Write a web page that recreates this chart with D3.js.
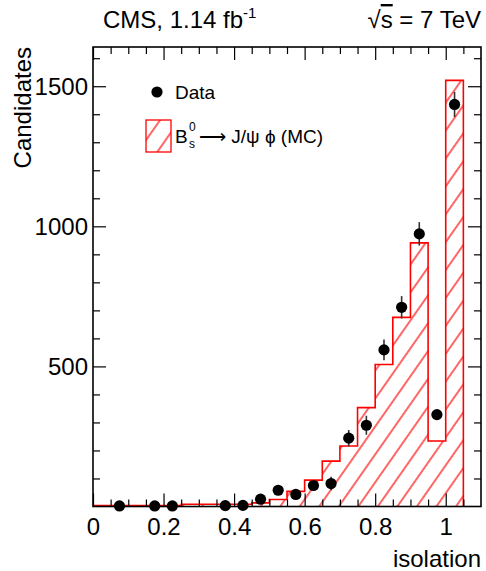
<!DOCTYPE html>
<html><head><meta charset="utf-8">
<script src="https://cdn.jsdelivr.net/npm/d3@7"></script>
<style>
html,body{margin:0;padding:0;background:#fff;}
text{font-family:"Liberation Sans",Arial,Helvetica,sans-serif;fill:#000;}
</style></head>
<body>
<svg id="c" width="486" height="571"></svg>
<script>
// ---- data ----
const mcBinLow = [0,0.05,0.10,0.15,0.20,0.25,0.30,0.35,0.40,0.45,0.50,0.55,0.60,0.65,0.70,0.75,0.80,0.85,0.90,0.95,1.00];
const mcCounts = [3,3,3,3,3,8,8,8,8,13,25,54,94,162,216,353,507,675,941,234,1521];
const binWidth = 0.05;
const dataX = [0.075,0.175,0.225,0.375,0.425,0.475,0.525,0.575,0.625,0.675,0.725,0.775,0.825,0.875,0.925,0.975,1.025];
const dataY = [2,2,2,3,4,26,58,43,75,82,244,290,559,711,973,328,1435];
const dataErr = [2,2,2,2,2,10,14,12,15,24,29,34,37,40,42,15,45];
const xMajorTicks = [0,0.2,0.4,0.6,0.8,1.0];
const xTickLabels = ["0","0.2","0.4","0.6","0.8","1"];
const yMajorTicks = [500,1000,1500];
const yTickLabels = ["500","1000","1500"];

// ---- layout ----
const L = 93, R = 481, T = 47, B = 506.5;
const svg = d3.select("#c");
const x = d3.scaleLinear().domain([0,1.1]).range([L,R]);
const y = d3.scaleLinear().domain([0,1640]).range([B,T]);

const defs = svg.append("defs");
const pat = defs.append("pattern").attr("id","hatch").attr("patternUnits","userSpaceOnUse")
  .attr("width",16).attr("height",16).attr("patternTransform","rotate(35)");
pat.append("line").attr("x1",8).attr("y1",0).attr("x2",8).attr("y2",16)
  .attr("stroke","#ff0000").attr("stroke-width",1.2);
defs.append("clipPath").attr("id","clip").append("rect")
  .attr("x",L).attr("y",T).attr("width",R-L).attr("height",B-T);

// ---- MC histogram ----
const pts = [[0,0]].concat(mcBinLow.map((b,i)=>[b,mcCounts[i]]));
const lastEdge = mcBinLow[mcBinLow.length-1]+binWidth;
pts.push([lastEdge, mcCounts[mcCounts.length-1]]);
pts.push([lastEdge, 0]);
const area = d3.area().x(d=>x(d[0])).y0(y(0)).y1(d=>y(d[1])).curve(d3.curveStepAfter);
const line = d3.line().x(d=>x(d[0])).y(d=>y(d[1])).curve(d3.curveStepAfter);
const g = svg.append("g").attr("clip-path","url(#clip)");
g.append("path").attr("d",area(pts)).attr("fill","url(#hatch)");
g.append("path").attr("d",line(pts)).attr("fill","none").attr("stroke","#ff0000").attr("stroke-width",1.6);

// ---- data points ----
const dg = svg.append("g");
dg.selectAll("line.err").data(dataX).join("line").attr("class","err")
  .attr("x1",(d)=>x(d)).attr("x2",(d)=>x(d))
  .attr("y1",(d,i)=>y(dataY[i]-dataErr[i])).attr("y2",(d,i)=>y(dataY[i]+dataErr[i]))
  .attr("stroke","#333").attr("stroke-width",1.6);
dg.selectAll("circle").data(dataX).join("circle")
  .attr("cx",d=>x(d)).attr("cy",(d,i)=>y(dataY[i])).attr("r",5.6).attr("fill","#000");

// ---- axes ----
const xMinor = d3.range(1,22).map(i=>i*0.05).filter(v=>!xMajorTicks.some(m=>Math.abs(m-v)<1e-6));
const yMinor = d3.range(1,17).map(i=>i*100).filter(v=>!yMajorTicks.includes(v));
const styleAxis = sel=>{sel.select(".domain").remove(); sel.selectAll("line").attr("stroke","#000").attr("stroke-width",1.2);};

const xb = svg.append("g").attr("transform",`translate(0,${B})`)
  .call(d3.axisBottom(x).tickValues(xMajorTicks).tickSize(-13).tickPadding(11)
    .tickFormat((d,i)=>xTickLabels[i]));
styleAxis(xb);
xb.selectAll("text").attr("font-size",24).attr("font-family","Liberation Sans, Arial, sans-serif").attr("fill","#000");
const xbm = svg.append("g").attr("transform",`translate(0,${B})`)
  .call(d3.axisBottom(x).tickValues(xMinor).tickSize(-7).tickFormat(""));
styleAxis(xbm);
const xt = svg.append("g").attr("transform",`translate(0,${T})`)
  .call(d3.axisTop(x).tickValues(xMajorTicks).tickSize(-13).tickFormat(""));
styleAxis(xt);
const xtm = svg.append("g").attr("transform",`translate(0,${T})`)
  .call(d3.axisTop(x).tickValues(xMinor).tickSize(-7).tickFormat(""));
styleAxis(xtm);

const yl = svg.append("g").attr("transform",`translate(${L},0)`)
  .call(d3.axisLeft(y).tickValues(yMajorTicks).tickSize(-13).tickPadding(5)
    .tickFormat((d,i)=>yTickLabels[i]));
styleAxis(yl);
yl.selectAll("text").attr("font-size",24).attr("font-family","Liberation Sans, Arial, sans-serif").attr("fill","#000").attr("dy","0.35em");
const ylm = svg.append("g").attr("transform",`translate(${L},0)`)
  .call(d3.axisLeft(y).tickValues(yMinor).tickSize(-7).tickFormat(""));
styleAxis(ylm);
const yr = svg.append("g").attr("transform",`translate(${R},0)`)
  .call(d3.axisRight(y).tickValues(yMajorTicks).tickSize(-13).tickFormat(""));
styleAxis(yr);
const yrm = svg.append("g").attr("transform",`translate(${R},0)`)
  .call(d3.axisRight(y).tickValues(yMinor).tickSize(-7).tickFormat(""));
styleAxis(yrm);

// frame
svg.append("rect").attr("x",L).attr("y",T).attr("width",R-L).attr("height",B-T)
  .attr("fill","none").attr("stroke","#000").attr("stroke-width",1.6);

// ---- titles ----
svg.append("text").attr("x",R).attr("y",567).attr("text-anchor","end").attr("font-size",24).text("isolation");
svg.append("text").attr("transform",`translate(31,${T}) rotate(-90)`).attr("text-anchor","end").attr("font-size",24).text("Candidates");

const h1 = svg.append("text").attr("x",103).attr("y",28).attr("font-size",24);
h1.append("tspan").text("CMS, 1.14 fb");
h1.append("tspan").attr("font-size",15).attr("dy",-10).text("-1");

const h2 = svg.append("text").attr("x",R).attr("y",28).attr("text-anchor","end").attr("font-size",24);
h2.append("tspan").text("\u221A");
h2.append("tspan").attr("text-decoration","overline").style("text-decoration","overline").text("s");
h2.append("tspan").text(" = 7 TeV");

// ---- legend ----
const lg = svg.append("g");
lg.append("circle").attr("cx",157).attr("cy",92).attr("r",5.6).attr("fill","#000");
lg.append("text").attr("x",175).attr("y",99).attr("font-size",19).text("Data");
lg.append("rect").attr("x",146).attr("y",120).attr("width",25).attr("height",32)
  .attr("fill","url(#hatch)").attr("stroke","#ff0000").attr("stroke-width",1.3);
lg.append("text").attr("x",175).attr("y",143).attr("font-size",19).text("B");
lg.append("text").attr("x",189).attr("y",131).attr("font-size",12).text("0");
lg.append("text").attr("x",189).attr("y",148).attr("font-size",12).text("s");
lg.append("text").attr("x",199).attr("y",143).attr("font-size",19)
  .text("\u27F6 J/\u03C8 \u03D5 (MC)");
</script>
</body></html>
